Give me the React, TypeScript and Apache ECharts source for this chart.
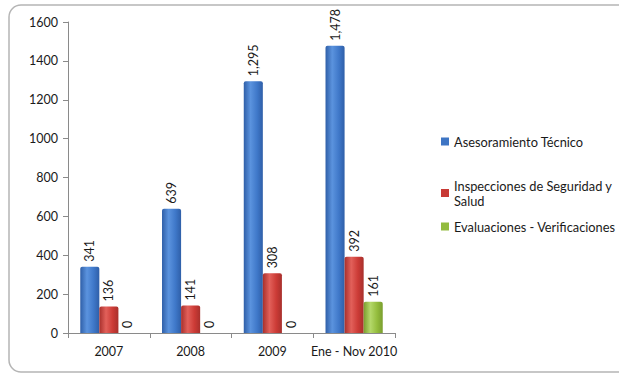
import React, { useEffect, useRef } from "react";
import * as echarts from "echarts";

const categories = ["2007", "2008", "2009", "Ene - Nov 2010"];
const asesoramiento = [341, 639, 1295, 1478];
const inspecciones = [136, 141, 308, 392];
const evaluaciones = [0, 0, 0, 161];
const yTicks = { min: 0, max: 1600, interval: 200 };
const seriesNames = [
  "Asesoramiento Técnico",
  "Inspecciones de Seguridad y Salud",
  "Evaluaciones - Verificaciones",
];

const FONT = "Lato, 'Open Sans', sans-serif";

function grad(dark: string, mid: string, light: string) {
  return new echarts.graphic.LinearGradient(0, 0, 1, 0, [
    { offset: 0, color: dark },
    { offset: 0.35, color: light },
    { offset: 0.7, color: mid },
    { offset: 1, color: dark },
  ]);
}

export default function App() {
  const ref = useRef<HTMLDivElement>(null);
  useEffect(() => {
    if (!ref.current) return;
    const chart = echarts.init(ref.current, null, { renderer: "svg" });
    const label = {
      show: true,
      position: "top" as const,
      rotate: 90,
      align: "left" as const,
      verticalAlign: "middle" as const,
      distance: 5,
      fontFamily: FONT,
      fontSize: 12.5,
      color: "#1a1a1a",
      formatter: (p: any) => Number(p.value).toLocaleString("en-US"),
    };
    const colors = [
      grad("#2f5fa8", "#3f78c9", "#5b93de"),
      grad("#a8302c", "#cc3b36", "#e2605a"),
      grad("#7a9e2e", "#94bd3d", "#b4d86a"),
    ];
    const legendColors = ["#3e75c4", "#c83a35", "#92bb3e"];
    const legendTops = [134, 178, 219];
    const data = [asesoramiento, inspecciones, evaluaciones];
    chart.setOption({
      animation: false,
      graphic: [
        {
          type: "rect",
          shape: { x: 9, y: 5, width: 640, height: 367, r: 12 },
          style: { fill: "none", stroke: "#b5b5b5", lineWidth: 1.5 },
          z: -10,
        },
      ],
      grid: { left: 68, right: 224, top: 22, bottom: 45 },
      legend: seriesNames.map((n, i) => ({
        orient: "vertical",
        left: 441,
        top: legendTops[i],
        padding: 0,
        itemWidth: 8,
        itemHeight: 8,
        itemGap: 4,
        icon: "rect",
        textStyle: { fontFamily: FONT, fontSize: 12.8, color: "#1a1a1a", lineHeight: 15 },
        formatter: (name: string) =>
          name === seriesNames[1] ? "Inspecciones de Seguridad y\nSalud" : name,
        data: [{ name: n, itemStyle: { color: legendColors[i] } }],
      })),
      xAxis: {
        type: "category",
        data: categories,
        axisLine: { lineStyle: { color: "#8a8a8a" } },
        axisTick: { show: true, lineStyle: { color: "#8a8a8a" }, length: 5 },
        axisLabel: { interval: 0, fontFamily: FONT, fontSize: 12.5, color: "#1a1a1a", margin: 12 },
      },
      yAxis: {
        type: "value",
        min: yTicks.min,
        max: yTicks.max,
        interval: yTicks.interval,
        splitLine: { show: false },
        axisLine: { show: true, lineStyle: { color: "#8a8a8a" } },
        axisTick: { show: true, lineStyle: { color: "#8a8a8a" }, length: 5 },
        axisLabel: {
          fontFamily: FONT,
          fontSize: 12.5,
          color: "#1a1a1a",
          margin: 10,
          formatter: (v: number) => String(v),
        },
      },
      series: seriesNames.map((n, i) => ({
        name: n,
        type: "bar",
        data: data[i],
        barGap: "0%",
        barCategoryGap: "30%",
        itemStyle: { color: colors[i], borderRadius: [2, 2, 0, 0] },
        label,
      })),
    });
    return () => chart.dispose();
  }, []);
  return (
    <div
      ref={ref}
      style={{ position: "absolute", left: 0, top: 0, width: 619, height: 378, background: "#fff" }}
    />
  );
}
